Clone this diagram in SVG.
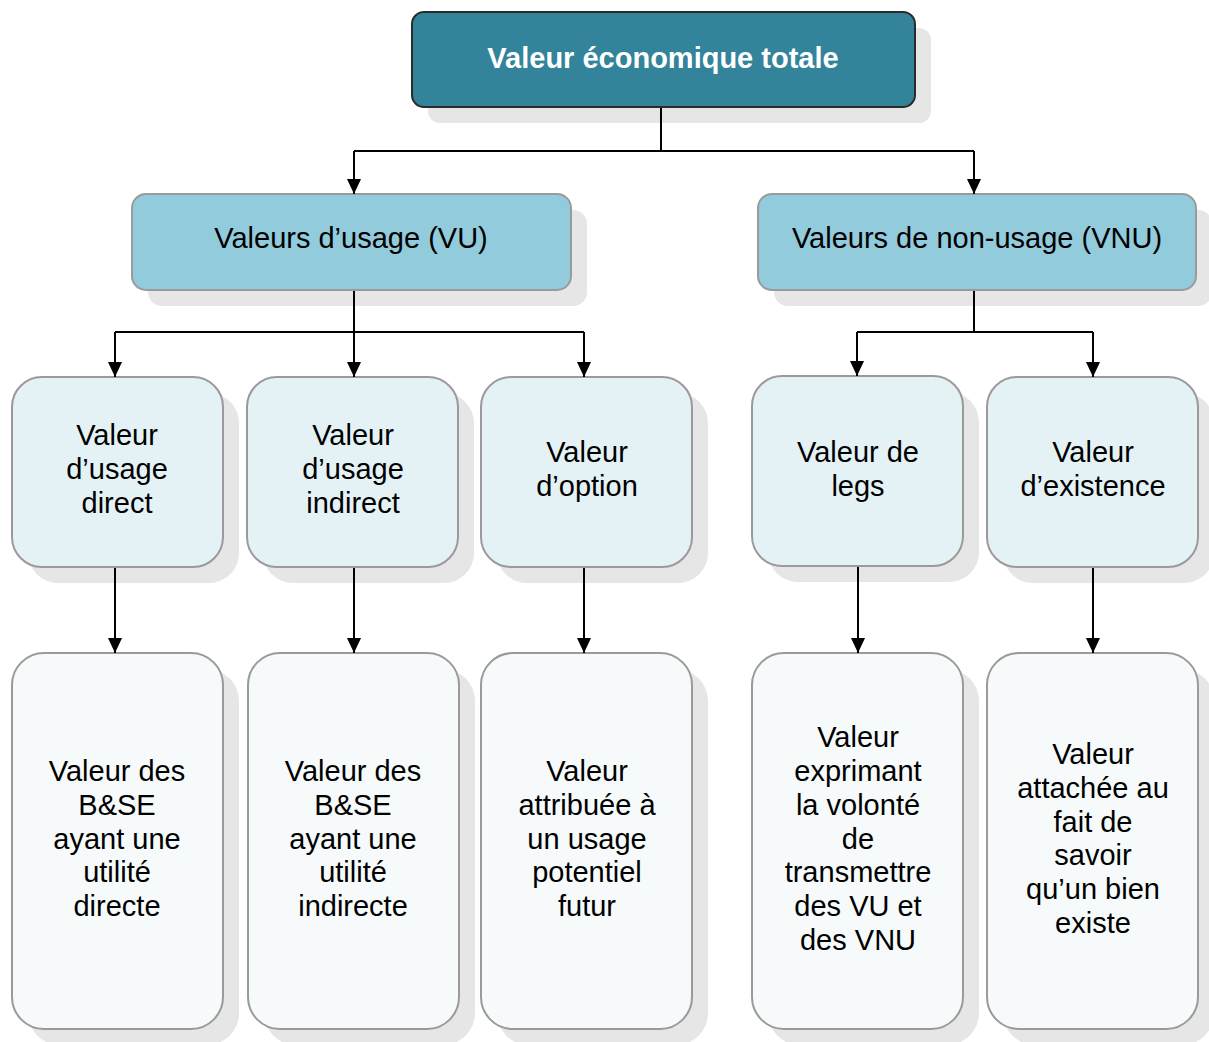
<svg xmlns="http://www.w3.org/2000/svg" width="1209" height="1042" viewBox="0 0 1209 1042">
<style>
.sh{fill:#e6e6e6}
.top{fill:#33849b;stroke:#2b2b2b;stroke-width:2}
.l2{fill:#92cbdc;stroke:#9a9a9a;stroke-width:2}
.l3{fill:#e4f2f6;stroke:#9a9a9a;stroke-width:2}
.l4{fill:#f6fafb;stroke:#9a9a9a;stroke-width:2}
text{font-family:"Liberation Sans",Arial,sans-serif;font-size:29px;fill:#000;text-anchor:middle}
.tt{font-weight:bold;fill:#fff}
.c{fill:none;stroke:#000;stroke-width:2}
</style>
<defs>
<marker id="ah" markerUnits="userSpaceOnUse" markerWidth="15" markerHeight="14" refX="15" refY="7" orient="auto" viewBox="0 0 15 14">
<path d="M0,0 L15,7 L0,14 z" fill="#000"/>
</marker>
</defs>
<g id="n-total">
<rect class="sh" x="428" y="28" width="503" height="95" rx="12"/>
<rect class="top" x="412" y="12" width="503" height="95" rx="12"/>
<text class="tt" x="663" y="68">Valeur économique totale</text>
</g>
<g id="n-vu">
<rect class="sh" x="148" y="210" width="439" height="96" rx="14"/>
<rect class="l2" x="132" y="194" width="439" height="96" rx="14"/>
<text x="351" y="248">Valeurs d’usage (VU)</text>
</g>
<g id="n-vnu">
<rect class="sh" x="774" y="210" width="438" height="96" rx="14"/>
<rect class="l2" x="758" y="194" width="438" height="96" rx="14"/>
<text x="977" y="248">Valeurs de non-usage (VNU)</text>
</g>
<g id="n-direct">
<rect class="sh" x="28" y="393" width="211" height="190" rx="30"/>
<rect class="l3" x="12" y="377" width="211" height="190" rx="30"/>
<text x="117" y="445">Valeur</text>
<text x="117" y="479">d’usage</text>
<text x="117" y="513">direct</text>
</g>
<g id="n-indirect">
<rect class="sh" x="263" y="393" width="211" height="190" rx="30"/>
<rect class="l3" x="247" y="377" width="211" height="190" rx="30"/>
<text x="353" y="445">Valeur</text>
<text x="353" y="479">d’usage</text>
<text x="353" y="513">indirect</text>
</g>
<g id="n-option">
<rect class="sh" x="497" y="393" width="211" height="190" rx="30"/>
<rect class="l3" x="481" y="377" width="211" height="190" rx="30"/>
<text x="587" y="462">Valeur</text>
<text x="587" y="496">d’option</text>
</g>
<g id="n-legs">
<rect class="sh" x="768" y="392" width="211" height="190" rx="30"/>
<rect class="l3" x="752" y="376" width="211" height="190" rx="30"/>
<text x="858" y="462">Valeur de</text>
<text x="858" y="496">legs</text>
</g>
<g id="n-existence">
<rect class="sh" x="1003" y="393" width="211" height="190" rx="30"/>
<rect class="l3" x="987" y="377" width="211" height="190" rx="30"/>
<text x="1093" y="462">Valeur</text>
<text x="1093" y="496">d’existence</text>
</g>
<g id="d-direct">
<rect class="sh" x="28" y="669" width="211" height="376" rx="32"/>
<rect class="l4" x="12" y="653" width="211" height="376" rx="32"/>
<text x="117" y="781">Valeur des</text>
<text x="117" y="815">B&amp;SE</text>
<text x="117" y="849">ayant une</text>
<text x="117" y="882">utilité</text>
<text x="117" y="916">directe</text>
</g>
<g id="d-indirect">
<rect class="sh" x="264" y="669" width="211" height="376" rx="32"/>
<rect class="l4" x="248" y="653" width="211" height="376" rx="32"/>
<text x="353" y="781">Valeur des</text>
<text x="353" y="815">B&amp;SE</text>
<text x="353" y="849">ayant une</text>
<text x="353" y="882">utilité</text>
<text x="353" y="916">indirecte</text>
</g>
<g id="d-option">
<rect class="sh" x="497" y="669" width="211" height="376" rx="32"/>
<rect class="l4" x="481" y="653" width="211" height="376" rx="32"/>
<text x="587" y="781">Valeur</text>
<text x="587" y="815">attribuée à</text>
<text x="587" y="849">un usage</text>
<text x="587" y="882">potentiel</text>
<text x="587" y="916">futur</text>
</g>
<g id="d-legs">
<rect class="sh" x="768" y="669" width="211" height="376" rx="32"/>
<rect class="l4" x="752" y="653" width="211" height="376" rx="32"/>
<text x="858" y="747">Valeur</text>
<text x="858" y="781">exprimant</text>
<text x="858" y="815">la volonté</text>
<text x="858" y="849">de</text>
<text x="858" y="882">transmettre</text>
<text x="858" y="916">des VU et</text>
<text x="858" y="950">des VNU</text>
</g>
<g id="d-existence">
<rect class="sh" x="1003" y="669" width="211" height="376" rx="32"/>
<rect class="l4" x="987" y="653" width="211" height="376" rx="32"/>
<text x="1093" y="764">Valeur</text>
<text x="1093" y="798">attachée au</text>
<text x="1093" y="832">fait de</text>
<text x="1093" y="865">savoir</text>
<text x="1093" y="899">qu’un bien</text>
<text x="1093" y="933">existe</text>
</g>
<g id="connectors">
<path class="c" d="M661,108 V151 M354,151 H974"/>
<path class="c" d="M354,151 V194" marker-end="url(#ah)"/>
<path class="c" d="M974,151 V194" marker-end="url(#ah)"/>
<path class="c" d="M354,291 V332 M115,332 H584 M974,291 V332 M857,332 H1093"/>
<path class="c" d="M115,332 V377" marker-end="url(#ah)"/>
<path class="c" d="M354,332 V377" marker-end="url(#ah)"/>
<path class="c" d="M584,332 V377" marker-end="url(#ah)"/>
<path class="c" d="M857,332 V376" marker-end="url(#ah)"/>
<path class="c" d="M1093,332 V377" marker-end="url(#ah)"/>
<path class="c" d="M115,568 V653" marker-end="url(#ah)"/>
<path class="c" d="M354,568 V653" marker-end="url(#ah)"/>
<path class="c" d="M584,568 V653" marker-end="url(#ah)"/>
<path class="c" d="M858,567 V653" marker-end="url(#ah)"/>
<path class="c" d="M1093,568 V653" marker-end="url(#ah)"/>
</g>
</svg>
